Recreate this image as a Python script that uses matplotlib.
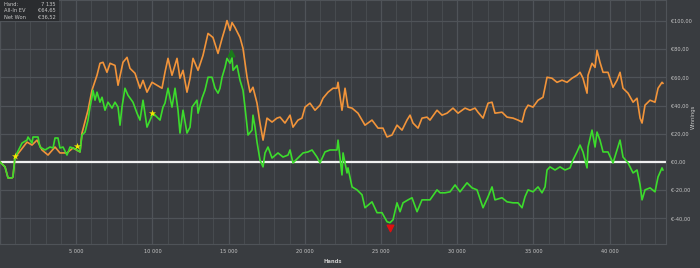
import numpy as np
import matplotlib
matplotlib.use("Agg")
import matplotlib.pyplot as plt
from matplotlib.ticker import FuncFormatter, MultipleLocator
from matplotlib.patches import Rectangle

# Net Won (green) - hands / euros
won_hands = [0, 330, 525, 790, 850, 985, 1310, 1445, 1770, 1840, 2100, 2165, 2495, 2625,
             2955, 3280, 3480, 3610, 3805, 3935, 4135, 4395, 4595, 4790, 5055, 5250, 5380,
             5580, 5775, 5905, 6035, 6100, 6235, 6365, 6560, 6695, 6890, 7085, 7350, 7545,
             7745, 7875, 8005, 8200, 8400, 8725, 8990, 9185, 9385, 9645, 9845, 10040, 10300,
             10500, 10695, 10825, 11025, 11285, 11485, 11680, 11810, 12010, 12270, 12470,
             12600, 12925, 12995, 13255, 13450, 13650, 13910, 14110, 14305, 14435, 14570,
             14765, 14895, 15095, 15225, 15290, 15550, 15750, 15945, 16075, 16275, 16535,
             16600, 16735, 16865, 17060, 17260, 17390, 17585, 17850, 18240, 18570, 18900,
             19030, 19225, 19555, 19885, 20210, 20475, 20800, 21000, 21325, 21655, 22110,
             22180, 22440, 22510, 22770, 22835, 23100, 23425, 23755, 23950, 24410, 24740,
             25065, 25395, 25590, 25790, 26050, 26250, 26445, 26775, 27035, 27365, 27690,
             28020, 28215, 28675, 28875, 29200, 29530, 29860, 30185, 30645, 30975, 31300,
             31695, 32025, 32285, 32480, 32940, 33270, 33665, 33990, 34255, 34450, 34650,
             34975, 35305, 35565, 35765, 35895, 36090, 36420, 36745, 37075, 37405, 37600,
             37860, 38060, 38255, 38520, 38585, 38845, 39045, 39175, 39370, 39570, 39895,
             40225, 40490, 40685, 40880, 41210, 41540, 41800, 42000, 42130, 42325, 42655,
             42980, 43180, 43440, 43500]
won_eur = [0, -3.5, -11.3, -11.3, -10.6, 3.5, 10.6, 13.4, 15.5, 17.7, 13.4, 17.7, 17.7, 10.6,
           8.5, 10.6, 9.9, 17.0, 17.0, 9.9, 10.6, 4.9, 10.6, 9.9, 8.5, 7.1, 19.1,
           21.2, 29.7, 38.9, 45.9, 50.9, 43.8, 49.5, 42.4, 45.9, 36.7, 42.4, 38.2, 42.4,
           38.9, 26.1, 38.9, 52.3, 47.3, 42.4, 34.6, 29.7, 43.8, 24.7, 29.7, 34.6, 31.8,
           29.7, 38.9, 41.7, 52.3, 38.9, 52.3, 36.7, 20.5, 36.7, 20.5, 24.7,
           38.9, 43.8, 34.6, 45.2, 50.9, 60.1, 60.1, 52.3, 48.8, 52.3, 60.1,
           67.1, 73.5, 70.0, 74.2, 65.0, 68.5, 57.9, 50.9, 38.9, 19.1, 22.6,
           33.2, 24.7, 14.1, 1.4, -3.5, 6.4, 10.6, 2.8, 6.4, 3.5, 4.9,
           8.5, -0.7, 2.8, 6.4, 7.1, 8.5, 3.5, -0.7, 7.1, 8.5, 8.5,
           15.5, -9.2, 6.4, -7.8, -4.2, -17.7, -19.8, -23.3, -32.5, -28.3, -36.0,
           -36.0, -42.4, -43.1, -41.0, -29.0, -35.3, -29.0, -26.9, -25.4, -35.3, -26.9,
           -26.9, -26.9, -19.8, -21.9, -21.9, -21.2, -16.3, -21.2, -14.8, -18.4, -19.8,
           -32.5, -24.7, -17.7, -26.9, -25.4, -28.3, -29.0, -29.0, -32.5, -24.7, -19.8,
           -21.2, -17.7, -21.9, -17.7, -5.7, -3.5, -5.7, -3.5, -5.7, -4.2, 1.4,
           7.1, 12.0, 7.1, -4.2, 10.6, 22.6, 10.6, 21.2, 15.5, 7.1, 7.1,
           -0.7, 8.5, 15.5, 3.5, -0.7, -7.8, -5.7, -16.3, -26.9, -19.8, -18.4,
           -21.2, -10.6, -4.2, -5.7]

# All-In EV (orange)
ev_hands = [0, 330, 525, 790, 850, 985, 1115, 1770, 2100, 2430, 2755, 3150, 3610, 3935, 4395,
            4790, 5250, 5380, 5775, 6035, 6365, 6560, 6760, 7020, 7220, 7545, 7745, 8070,
            8335, 8530, 8860, 9185, 9385, 9645, 9975, 10300, 10630, 10825, 11025, 11285,
            11615, 11810, 12010, 12270, 12470, 12665, 12995, 13320, 13650, 13975, 14305,
            14570, 14765, 14895, 15095, 15225, 15420, 15750, 15945, 16210, 16405, 16600,
            16865, 17060, 17260, 17520, 17850, 18175, 18375, 18700, 19030, 19225, 19555,
            19815, 20015, 20340, 20670, 21000, 21195, 21525, 21850, 22110, 22180, 22440,
            22640, 22835, 23100, 23490, 23950, 24410, 24805, 25130, 25395, 25720, 26050,
            26380, 26705, 26905, 27100, 27430, 27690, 28020, 28215, 28675, 29005, 29330,
            29725, 30055, 30515, 30840, 31170, 31365, 31695, 32025, 32285, 32480, 32940,
            33270, 33665, 33990, 34255, 34450, 34650, 34975, 35305, 35630, 35895, 36220,
            36550, 36880, 37205, 37535, 37860, 38060, 38255, 38520, 38585, 38845, 39045,
            39175, 39370, 39570, 39895, 40225, 40490, 40685, 40880, 41210, 41540, 41800,
            42000, 42130, 42325, 42655, 42980, 43180, 43440, 43500]
ev_eur = [0, -3.5, -11.3, -11.3, -10.6, 3.5, 4.9, 14.1, 12.0, 15.5, 8.5, 4.9, 10.6, 6.4, 6.4,
          9.9, 7.1, 20.5, 36.7, 50.9, 61.5, 70.0, 70.7, 63.6, 70.0, 68.5, 54.4, 70.7,
          74.2, 66.4, 62.9, 52.3, 57.9, 49.5, 56.5, 54.4, 52.3, 63.6, 73.5, 61.5,
          73.5, 59.4, 65.0, 49.5, 59.4, 73.5, 65.0, 75.6, 91.2, 88.3, 77.0,
          87.6, 94.7, 100.3, 93.3, 98.9, 95.4, 88.3, 80.6, 60.1, 49.5, 53.0,
          41.7, 27.6, 15.5, 31.1, 28.3, 31.1, 31.8, 27.6, 33.2, 24.7, 29.7,
          31.1, 38.9, 41.7, 36.7, 40.3, 45.2, 49.5, 52.3, 52.3, 56.5, 36.7,
          52.3, 38.9, 38.2, 34.6, 26.1, 29.7, 24.0, 24.0, 17.7, 19.1, 26.1,
          22.6, 29.7, 33.2, 27.6, 24.0, 31.1, 31.8, 29.7, 36.7, 33.2, 34.6,
          38.2, 34.6, 38.2, 36.7, 38.2, 35.3, 31.1, 41.7, 42.4, 34.6, 35.3,
          31.8, 31.1, 29.7, 28.3, 36.7, 40.3, 38.9, 43.8, 45.9, 60.1, 59.4,
          56.5, 58.0, 56.5, 59.4, 61.5, 63.6, 59.4, 48.8, 61.5, 70.0, 67.1,
          79.2, 70.7, 63.6, 63.6, 53.0, 58.0, 63.6, 52.3, 48.8, 42.4, 45.2,
          31.1, 27.6, 40.3, 43.8, 42.4, 52.3, 56.5, 55.8]

star_hands = [985, 5050, 9975]
star_eur = [4.2, 11.3, 34.6]
max_point = (15160, 77.0)
min_point = (25590, -46.6)

info_labels = ["Hand:", "All-In EV", "Net Won"]
info_values = ["7 135", "€64,65", "€36,52"]

BG = "#393c40"
GRID = "#4a4e53"
TXT = "#c8c8c8"

fig = plt.figure(figsize=(7, 2.68), dpi=100, facecolor=BG)
ax = fig.add_axes([0.0, 0.0896, 0.9514, 0.9104], facecolor=BG)

ax.xaxis.set_major_locator(MultipleLocator(5000))
ax.xaxis.set_minor_locator(MultipleLocator(1000))
ax.yaxis.set_major_locator(MultipleLocator(20))
ax.grid(which="major", color="#4f5358", linewidth=0.9)
ax.grid(which="minor", axis="x", color=GRID, linewidth=0.6)
ax.set_axisbelow(True)

ax.axhline(0, color="#f0f0f0", linewidth=1.6, zorder=2)
ax.plot(ev_hands, ev_eur, color="#f2943a", linewidth=1.2, zorder=3)
ax.plot(won_hands, won_eur, color="#3cdc2c", linewidth=1.2, zorder=4)
ax.scatter(star_hands, star_eur, marker="*", s=28, color="#f5e600", zorder=5, linewidths=0)
ax.scatter([max_point[0]], [max_point[1]], marker="^", s=22, color="#1a7a1a", zorder=5)
ax.scatter([min_point[0]], [min_point[1]], marker="v", s=22, color="#e01010", zorder=5)

ax.set_xlim(0, 43700)
ax.set_ylim(-58.2, 114.9)

ax.xaxis.set_major_formatter(FuncFormatter(
    lambda v, p: "" if v <= 0 else f"{int(v):,}".replace(",", " ")))
ax.yaxis.set_major_formatter(FuncFormatter(
    lambda v, p: "€" + f"{v:.2f}".replace(".", ",")))
ax.yaxis.tick_right()
ax.tick_params(which="both", length=0, colors=TXT, labelsize=3.6)
ax.tick_params(axis="x", pad=3.5)
ax.tick_params(axis="y", pad=3.5)
ax.set_xlabel("Hands", color=TXT, fontsize=3.8, fontweight="bold", labelpad=3.5)
fig.text(0.991, 1 - 117 / 268, "Winnings", color=TXT, fontsize=3.8, rotation=90,
         ha="center", va="center")
for s in ax.spines.values():
    s.set_color("#4f5358")
    s.set_linewidth(0.8)

# info box in the top left corner
fig.patches.append(Rectangle((0.0, 0.922), 0.084, 0.078, transform=fig.transFigure,
                             facecolor="#2a2c2f", edgecolor="none", zorder=10))
for i, (lab, val) in enumerate(zip(info_labels, info_values)):
    y = 0.984 - i * 0.024
    fig.text(0.005, y, lab, color=TXT, fontsize=3.7, va="center", ha="left", zorder=11)
    fig.text(0.079, y, val, color=TXT, fontsize=3.7, va="center", ha="right", zorder=11)

fig.savefig("out.png", dpi=100, facecolor=BG)
